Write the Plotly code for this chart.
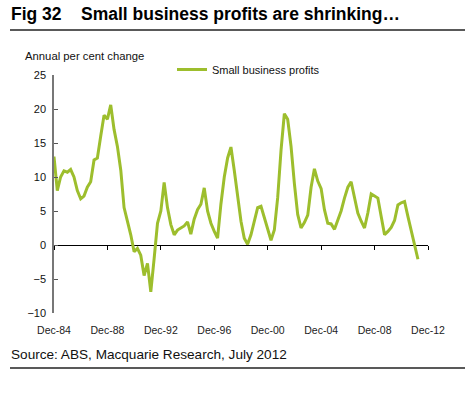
import pandas as pd
import plotly.graph_objects as go

# Quarterly, annual per cent change in small business profits
start_quarter = '1984-12-31'
profits = [
    13.0, 8.0, 10.0, 10.9, 10.7, 11.1, 10.0, 8.0, 6.8, 7.2,
    8.5, 9.3, 12.5, 12.8, 16.0, 19.1, 18.5, 20.6, 17.0, 14.5,
    11.0, 5.5, 3.5, 1.5, -1.0, -0.5, -1.5, -4.5, -2.7, -6.9,
    -2.0, 3.2, 5.0, 9.2, 5.5, 3.0, 1.5, 2.2, 2.5, 2.8,
    3.4, 1.6, 3.8, 5.2, 6.0, 8.4, 5.0, 3.2, 2.0, 1.0,
    6.0, 10.0, 12.8, 14.4, 11.0, 7.0, 3.5, 1.0, 0.1, 1.5,
    3.4, 5.5, 5.7, 4.0, 2.3, 0.7, 2.2, 7.0, 14.0, 19.3,
    18.5, 14.5, 9.0, 4.5, 2.5, 3.3, 4.4, 8.5, 11.2, 9.4,
    8.3, 5.2, 3.2, 3.1, 2.3, 3.5, 5.0, 6.9, 8.5, 9.3,
    6.8, 4.7, 3.5, 2.5, 4.7, 7.5, 7.2, 6.9, 4.2, 1.5,
    2.0, 2.6, 3.6, 5.9, 6.2, 6.4, 4.2, 2.2, 0.0, -2.1,
]
dates = pd.date_range(start_quarter, periods=len(profits), freq='QE-DEC')

tick_dates = ['1984-12-31', '1988-12-31', '1992-12-31', '1996-12-31',
              '2000-12-31', '2004-12-31', '2008-12-31', '2012-12-31']
tick_labels = ['Dec-84', 'Dec-88', 'Dec-92', 'Dec-96',
               'Dec-00', 'Dec-04', 'Dec-08', 'Dec-12']
y_ticks = [25, 20, 15, 10, 5, 0, -5, -10]
y_range = [-10, 25]
x_range = ['1984-12-31', '2012-12-31']

green = '#9dbe2d'
font = 'Arial, Liberation Sans, sans-serif'

W, H = 470, 404
L, R, T, B = 54, 42, 75, 91
pw, ph = W - L - R, H - T - B


def px_x(px):
    return (px - L) / pw


def px_y(py):
    return (H - B - py) / ph


# fraction of the plot height where zero sits, so the tick axis can sit on it
zero_frac = (0 - y_range[0]) / (y_range[1] - y_range[0])

fig = go.Figure()
fig.add_trace(go.Scatter(x=dates, y=profits, mode='lines', name='Small business profits',
                         line=dict(color=green, width=3)))
# invisible trace on a subplot whose bottom edge is the zero line -> ticks on zero
fig.add_trace(go.Scatter(x=[dates[0]], y=[0.5], xaxis='x2', yaxis='y2', mode='markers',
                         marker=dict(opacity=0), showlegend=False, hoverinfo='skip'))

fig.update_layout(
    width=W, height=H,
    margin=dict(l=L, r=R, t=T, b=B),
    paper_bgcolor='white', plot_bgcolor='rgba(0,0,0,0)',
    font=dict(family=font, size=11, color='#111111'),
    xaxis=dict(range=x_range, tickvals=tick_dates, ticktext=tick_labels,
               showgrid=False, zeroline=False, showline=False, ticks='',
               tickfont=dict(size=10.5, color='#222222'), ticklabelstandoff=9),
    yaxis=dict(range=y_range, tickvals=y_ticks, showgrid=False,
               zeroline=True, zerolinecolor='black', zerolinewidth=1.2,
               showline=True, linecolor='#777777', linewidth=1.5,
               ticks='inside', ticklen=4, tickcolor='#555555',
               tickfont=dict(size=11), ticklabelstandoff=4),
    xaxis2=dict(range=x_range, anchor='y2', domain=[0, 1], tickvals=tick_dates,
                showticklabels=False, showgrid=False, zeroline=False, showline=False,
                ticks='outside', ticklen=4, tickcolor='black', tickwidth=1),
    yaxis2=dict(range=[0, 1], domain=[zero_frac, 1], anchor='x2', visible=False),
    legend=dict(x=px_x(172), y=px_y(55), xanchor='left', yanchor='top',
                bgcolor='rgba(0,0,0,0)', font=dict(size=11)),
    showlegend=True,
)

fig.add_annotation(text='<b>Fig 32    Small business profits are shrinking…</b>',
                   xref='paper', yref='paper', x=px_x(9), y=px_y(14),
                   xanchor='left', yanchor='middle', showarrow=False,
                   font=dict(size=17.5, color='black'))
fig.add_annotation(text='Annual per cent change', xref='paper', yref='paper',
                   x=px_x(23), y=px_y(56), xanchor='left', yanchor='middle',
                   showarrow=False, font=dict(size=11.3))
fig.add_annotation(text='Source: ABS, Macquarie Research, July 2012', xref='paper', yref='paper',
                   x=px_x(9), y=px_y(354), xanchor='left', yanchor='middle',
                   showarrow=False, font=dict(size=13.6))

fig.add_shape(type='line', xref='paper', yref='paper',
              x0=px_x(10), x1=px_x(465), y0=px_y(30), y1=px_y(30),
              line=dict(color='#222222', width=1.5))
fig.add_shape(type='line', xref='paper', yref='paper',
              x0=px_x(10), x1=px_x(465), y0=px_y(368), y1=px_y(368),
              line=dict(color='#222222', width=1.5))

# drop the browser's default body margin so the figure sits at the page corner
fig.write_html('out.html', config={'displayModeBar': False},
               post_script="document.body.style.margin = '0';")
